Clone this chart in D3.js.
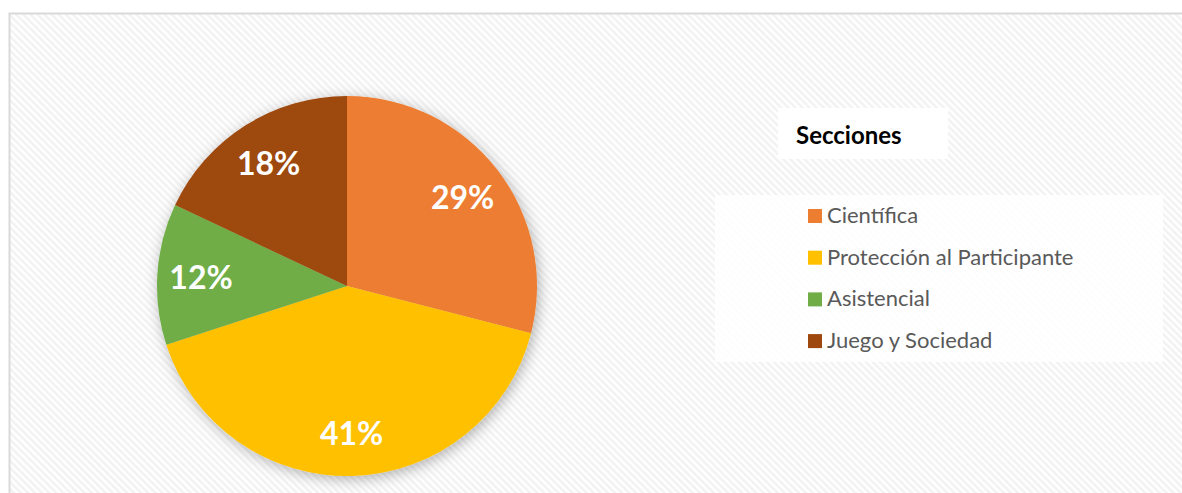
<!DOCTYPE html>
<html>
<head>
<meta charset="utf-8">
<script src="https://cdn.jsdelivr.net/npm/d3@7"></script>
<style>
  body { margin: 0; background: #fff; }
  svg { display: block; }
</style>
</head>
<body>
<svg id="chart" width="1182" height="493"></svg>
<script>
const categories = ["Científica", "Protección al Participante", "Asistencial", "Juego y Sociedad"];
const values = [29, 41, 12, 18];
const colors = ["#ED7D31", "#FFC000", "#70AD47", "#9E480E"];
const legendTitle = "Secciones";

const svg = d3.select("#chart");
const width = 1182, height = 493;

const defs = svg.append("defs");

// striped background like the original chart area
const pattern = defs.append("pattern")
    .attr("id", "stripes")
    .attr("patternUnits", "userSpaceOnUse")
    .attr("width", 5)
    .attr("height", 5)
    .attr("patternTransform", "rotate(-45)");
pattern.append("rect").attr("width", 5).attr("height", 5).attr("fill", "#ffffff");
pattern.append("rect").attr("width", 2.5).attr("height", 5).attr("fill", "#f2f2f2");

const shadow = defs.append("filter")
    .attr("id", "shadow")
    .attr("x", "-20%").attr("y", "-20%")
    .attr("width", "140%").attr("height", "140%");
shadow.append("feDropShadow")
    .attr("dx", 2).attr("dy", 3)
    .attr("stdDeviation", 7)
    .attr("flood-color", "#000")
    .attr("flood-opacity", 0.3);

svg.append("rect")
    .attr("x", 9.5).attr("y", 13.5)
    .attr("width", width + 10).attr("height", height)
    .attr("fill", "url(#stripes)")
    .attr("stroke", "#d9d9d9")
    .attr("stroke-width", 2);

// pie
const cx = 347, cy = 286, radius = 190;
const pie = d3.pie().sort(null).value(d => d.value);
const arc = d3.arc().innerRadius(0).outerRadius(radius);
const labelArc = d3.arc().innerRadius(radius * 0.77).outerRadius(radius * 0.77);
const color = d3.scaleOrdinal().domain(categories).range(colors);

const data = categories.map((c, i) => ({ name: c, value: values[i] }));
const total = d3.sum(values);

const pieGroup = svg.append("g").attr("transform", `translate(${cx},${cy})`);

pieGroup.append("g")
    .attr("filter", "url(#shadow)")
    .selectAll("path")
    .data(pie(data))
    .join("path")
    .attr("d", arc)
    .attr("fill", d => color(d.data.name));

pieGroup.selectAll("text")
    .data(pie(data))
    .join("text")
    .attr("transform", d => `translate(${labelArc.centroid(d)})`)
    .attr("text-anchor", "middle")
    .attr("dominant-baseline", "central")
    .attr("fill", "#fff")
    .style("font-family", "Lato, 'Open Sans', sans-serif")
    .style("font-weight", "bold")
    .style("font-size", "32px")
    .text(d => `${Math.round(d.data.value / total * 100)}%`);

// legend title
svg.append("rect")
    .attr("x", 778).attr("y", 108)
    .attr("width", 170).attr("height", 51)
    .attr("fill", "#fff");
svg.append("text")
    .attr("x", 796).attr("y", 144)
    .attr("fill", "#000")
    .style("font-family", "Lato, 'Open Sans', sans-serif")
    .style("font-weight", "bold")
    .style("font-size", "24px")
    .text(legendTitle);

// legend entries
svg.append("rect")
    .attr("x", 715).attr("y", 195)
    .attr("width", 448).attr("height", 167)
    .attr("fill", "#fff")
    .attr("fill-opacity", 0.85);

const legend = svg.selectAll("g.legend-entry")
    .data(categories)
    .join("g")
    .attr("class", "legend-entry")
    .attr("transform", (d, i) => `translate(808, ${223 + i * 41.7})`);

legend.append("rect")
    .attr("x", 0).attr("y", -14)
    .attr("width", 14).attr("height", 14)
    .attr("fill", d => color(d));

legend.append("text")
    .attr("x", 19).attr("y", 0)
    .attr("fill", "#595959")
    .style("font-family", "Lato, 'Open Sans', sans-serif")
    .style("font-size", "22px")
    .text(d => d);
</script>
</body>
</html>
